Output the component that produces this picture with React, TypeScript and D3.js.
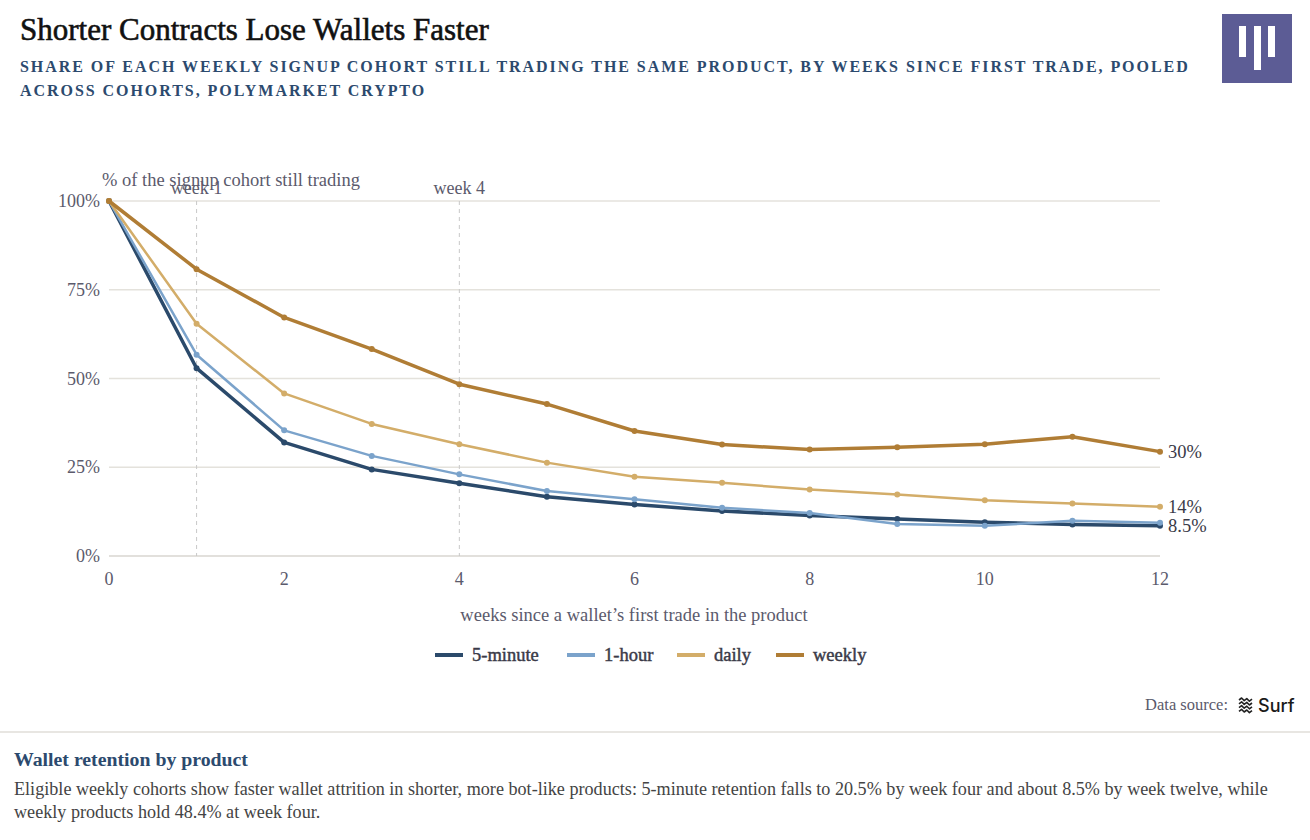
import React from "react";
import * as d3 from "d3";

const weeks = [0, 1, 2, 3, 4, 5, 6, 7, 8, 9, 10, 11, 12];
const fiveMinute = [100, 52.9, 32.0, 24.4, 20.5, 16.7, 14.5, 12.7, 11.4, 10.4, 9.5, 8.9, 8.5];
const oneHour = [100, 56.7, 35.4, 28.2, 23.0, 18.3, 16.0, 13.6, 12.1, 9.0, 8.5, 9.9, 9.4];
const daily = [100, 65.4, 45.8, 37.2, 31.5, 26.3, 22.3, 20.6, 18.7, 17.3, 15.7, 14.8, 13.9];
const weekly = [100, 80.8, 67.2, 58.3, 48.4, 42.8, 35.2, 31.4, 30.0, 30.6, 31.5, 33.6, 29.4];

const seriesNames = ["5-minute", "1-hour", "daily", "weekly"];
const seriesColors = ["#2b4a6b", "#7ba3cb", "#d3ad69", "#b07d35"];
const seriesWidths = [3.5, 2.5, 2.5, 3.5];
const endLabels = ["8.5%", "", "14%", "30%"];
const yTicks = [0, 25, 50, 75, 100];
const xTicks = [0, 2, 4, 6, 8, 10, 12];
const markers = [
  { week: 1, label: "week 1" },
  { week: 4, label: "week 4" },
];

const FONT = "'Liberation Serif', 'Times New Roman', serif";

export default function App() {
  const W = 1310;
  const H = 840;
  const x = d3.scaleLinear().domain([0, 12]).range([109, 1160]);
  const y = d3.scaleLinear().domain([0, 100]).range([556, 201]);
  const allSeries = [fiveMinute, oneHour, daily, weekly];
  const line = d3
    .line<[number, number]>()
    .x((d) => x(d[0]))
    .y((d) => y(d[1]));

  const legendX = [435, 567, 677, 776];
  const axisColor = "#5b5a6c";

  return (
    <div style={{ position: "fixed", left: 0, top: 0, background: "#fff" }}>
      <svg width={W} height={H} style={{ display: "block", fontFamily: FONT }}>
        <rect width={W} height={H} fill="#fff" />
        <text x={20} y={40} fontSize={31} fill="#111" stroke="#111" strokeWidth={0.6}>
          Shorter Contracts Lose Wallets Faster
        </text>
        <text x={20} y={72} fontSize={16} fontWeight={700} fill="#2c4a6e" letterSpacing={1.95}>
          SHARE OF EACH WEEKLY SIGNUP COHORT STILL TRADING THE SAME PRODUCT, BY WEEKS SINCE FIRST TRADE, POOLED
        </text>
        <text x={20} y={96} fontSize={16} fontWeight={700} fill="#2c4a6e" letterSpacing={1.95}>
          ACROSS COHORTS, POLYMARKET CRYPTO
        </text>

        {/* logo */}
        <rect x={1222} y={14} width={70} height={69} fill="#5c5c95" />
        <rect x={1239} y={26} width={7} height={31} fill="#fff" />
        <rect x={1254} y={26} width={7} height={44} fill="#fff" />
        <rect x={1268} y={26} width={7} height={31} fill="#fff" />

        {/* gridlines */}
        {yTicks.map((t) => (
          <g key={t}>
            <line x1={109} x2={1160} y1={y(t)} y2={y(t)} stroke={t === 0 ? "#d8d6d0" : "#e4e2dc"} strokeWidth={1.3} />
            <text x={100} y={y(t) + 6} textAnchor="end" fontSize={18} fill={axisColor}>
              {t}%
            </text>
          </g>
        ))}
        {xTicks.map((t) => (
          <text key={t} x={x(t)} y={585} textAnchor="middle" fontSize={18} fill={axisColor}>
            {t}
          </text>
        ))}

        {markers.map((m) => (
          <g key={m.label}>
            <line x1={x(m.week)} x2={x(m.week)} y1={201} y2={556} stroke="#c8c8c8" strokeDasharray="4,4" strokeWidth={1} />
            <text x={x(m.week)} y={194} textAnchor="middle" fontSize={18} fill={axisColor}>
              {m.label}
            </text>
          </g>
        ))}
        <text x={102} y={186} fontSize={18.5} fill={axisColor}>
          % of the signup cohort still trading
        </text>

        {allSeries.map((s, i) => {
          const pts = weeks.map((w, j) => [w, s[j]] as [number, number]);
          return (
            <g key={seriesNames[i]}>
              <path d={line(pts) || ""} fill="none" stroke={seriesColors[i]} strokeWidth={seriesWidths[i]} strokeLinejoin="round" />
              {pts.map((p, j) => (
                <circle key={j} cx={x(p[0])} cy={y(p[1])} r={3} fill={seriesColors[i]} />
              ))}
            </g>
          );
        })}
        {allSeries.map((s, i) =>
          endLabels[i] ? (
            <text key={i} x={1168} y={y(s[12]) + 6} fontSize={18.5} fill="#3a3a48">
              {endLabels[i]}
            </text>
          ) : null
        )}

        <text x={634} y={621} textAnchor="middle" fontSize={18.5} fill={axisColor}>
          weeks since a wallet’s first trade in the product
        </text>

        {seriesNames.map((n, i) => (
          <g key={n}>
            <line x1={legendX[i]} x2={legendX[i] + 28} y1={655} y2={655} stroke={seriesColors[i]} strokeWidth={4} />
            <text x={legendX[i] + 37} y={661} fontSize={18.5} fill="#3a3a48" stroke="#3a3a48" strokeWidth={0.45}>
              {n}
            </text>
          </g>
        ))}

        <text x={1228} y={710} textAnchor="end" fontSize={16.5} fill={axisColor}>
          Data source:
        </text>
        <g transform="translate(1239,698)" stroke="#222" strokeWidth={1.6} fill="none" strokeLinejoin="round">
          {[0, 1, 2, 3].map((k) => (
            <path key={k} d={`M0,${k * 3.8 + 2} l2.6,-2 l2.6,2.6 l2.6,-2 l2.6,2.6 l2.6,-2`} />
          ))}
        </g>
        <text x={1258} y={712} fontSize={18} fill="#1a1a1a" fontFamily="'Inter', 'Liberation Sans', sans-serif" fontWeight={500}>
          Surf
        </text>

        <line x1={0} x2={W} y1={732} y2={732} stroke="#e0ded8" strokeWidth={1.3} />
        <text x={14} y={766} fontSize={19.8} fontWeight={700} fill="#2c4a6e">
          Wallet retention by product
        </text>
        <text x={14} y={795} fontSize={18.15} fill="#444">
          Eligible weekly cohorts show faster wallet attrition in shorter, more bot-like products: 5-minute retention falls to 20.5% by week four and about 8.5% by week twelve, while
        </text>
        <text x={14} y={818} fontSize={18.15} fill="#444">
          weekly products hold 48.4% at week four.
        </text>
      </svg>
    </div>
  );
}
